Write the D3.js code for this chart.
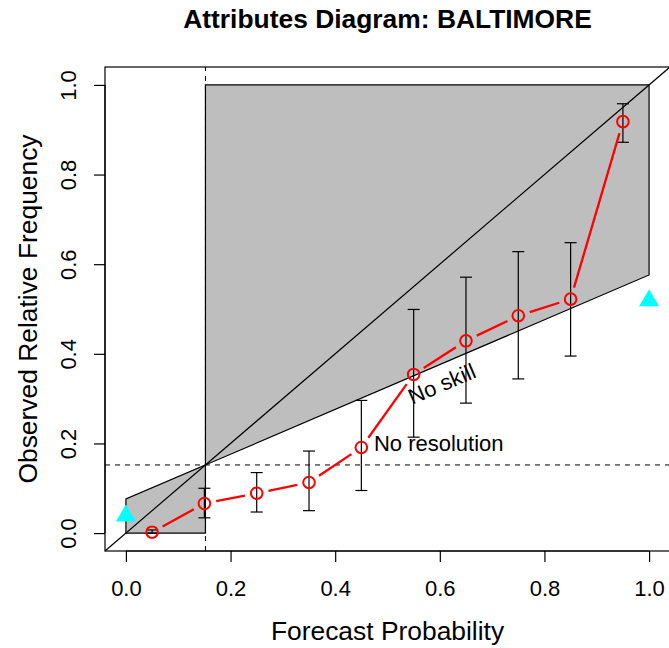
<!DOCTYPE html>
<html>
<head>
<meta charset="utf-8">
<script src="https://cdn.jsdelivr.net/npm/d3@7"></script>
<style>
  body { margin: 0; background: #fff; }
  svg { display: block; font-family: "Liberation Sans", Arial, sans-serif; }
</style>
</head>
<body>
<div id="chart"></div>
<script>
const binMid = [0.05, 0.15, 0.25, 0.35, 0.45, 0.55, 0.65, 0.75, 0.85, 0.95];
const obsFreq = [0.002, 0.066, 0.089, 0.113, 0.191, 0.354, 0.429, 0.485, 0.522, 0.918];
const upperCI = [0.007, 0.100, 0.135, 0.183, 0.296, 0.499, 0.571, 0.628, 0.648, 0.958];
const lowerCI = [0.000, 0.034, 0.047, 0.050, 0.095, 0.214, 0.290, 0.344, 0.395, 0.872];
const climatology = 0.152;
const triX = [0, 1];
const triY = [0.045, 0.525];
const ticks = [0, 0.2, 0.4, 0.6, 0.8, 1.0];

const width = 669, height = 648;
const plot = { left: 105, right: 670, top: 67, bottom: 551 };

const svg = d3.select("#chart")
              .append("svg")
              .attr("width", width)
              .attr("height", height);

const x = d3.scaleLinear().domain([-0.04, 1.04]).range([plot.left, plot.right]);
const y = d3.scaleLinear().domain([-0.04, 1.04]).range([plot.bottom, plot.top]);

const noSkill = p => (p + climatology) / 2;
const line = d3.line().x(d => x(d[0])).y(d => y(d[1]));

// shaded skill areas
const polyLeft = [[0, 0], [0, noSkill(0)], [climatology, climatology], [climatology, 0]];
const polyRight = [[climatology, climatology], [climatology, 1], [1, 1], [1, noSkill(1)]];

[polyLeft, polyRight].forEach(p => {
    svg.append("path")
       .attr("d", line(p) + "Z")
       .attr("fill", "#bebebe")
       .attr("stroke", "#000")
       .attr("stroke-width", 1.2);
});

// perfect reliability diagonal
svg.append("path")
   .attr("d", line([[-0.04, -0.04], [1.04, 1.04]]))
   .attr("stroke", "#000")
   .attr("stroke-width", 1.2);

// climatology lines
svg.append("path")
   .attr("d", line([[-0.04, climatology], [1.04, climatology]]))
   .attr("stroke", "#000")
   .attr("stroke-dasharray", "5,5");

svg.append("path")
   .attr("d", line([[climatology, -0.04], [climatology, 1.04]]))
   .attr("stroke", "#000")
   .attr("stroke-dasharray", "5,5");

// error bars
const bars = svg.append("g")
                .attr("stroke", "#000")
                .attr("stroke-width", 1.2);

binMid.forEach((b, i) => {
    bars.append("line")
        .attr("x1", x(b)).attr("x2", x(b))
        .attr("y1", y(lowerCI[i])).attr("y2", y(upperCI[i]));
    [lowerCI[i], upperCI[i]].forEach(v => {
        bars.append("line")
            .attr("x1", x(b) - 6).attr("x2", x(b) + 6)
            .attr("y1", y(v)).attr("y2", y(v));
    });
});

// reliability curve, type "b" style with gaps at the points
const gap = 12;
for (let i = 0; i < binMid.length - 1; i++) {
    const x0 = x(binMid[i]), y0 = y(obsFreq[i]);
    const x1 = x(binMid[i + 1]), y1 = y(obsFreq[i + 1]);
    const len = Math.hypot(x1 - x0, y1 - y0);
    if (len <= 2 * gap) continue;
    const ux = (x1 - x0) / len, uy = (y1 - y0) / len;
    svg.append("line")
       .attr("x1", x0 + ux * gap).attr("y1", y0 + uy * gap)
       .attr("x2", x1 - ux * gap).attr("y2", y1 - uy * gap)
       .attr("stroke", "red")
       .attr("stroke-width", 2.3);
}

svg.selectAll("circle.pt")
   .data(binMid)
   .join("circle")
   .attr("class", "pt")
   .attr("cx", d => x(d))
   .attr("cy", (d, i) => y(obsFreq[i]))
   .attr("r", 5.8)
   .attr("fill", "none")
   .attr("stroke", "red")
   .attr("stroke-width", 2);

// cyan triangles
svg.selectAll("path.tri")
   .data(triX)
   .join("path")
   .attr("class", "tri")
   .attr("d", (d, i) => {
       const cx = x(d), cy = y(triY[i]);
       return `M${cx},${cy - 8.5}L${cx + 10},${cy + 8.5}L${cx - 10},${cy + 8.5}Z`;
   })
   .attr("fill", "cyan");

// labels inside plot
svg.append("text")
   .attr("x", x(0.474))
   .attr("y", y(0.199))
   .attr("dominant-baseline", "central")
   .style("font-size", "22px")
   .text("No resolution");

const angle = Math.atan2(y(noSkill(0)) - y(noSkill(1)), x(1) - x(0)) * 180 / Math.PI;
svg.append("text")
   .attr("transform", `translate(${x(0.604)}, ${y(0.333)}) rotate(${-angle})`)
   .attr("text-anchor", "middle")
   .attr("dominant-baseline", "central")
   .style("font-size", "22px")
   .text("No skill");

// box and axes
svg.append("rect")
   .attr("x", plot.left).attr("y", plot.top)
   .attr("width", plot.right - plot.left).attr("height", plot.bottom - plot.top)
   .attr("fill", "none")
   .attr("stroke", "#000")
   .attr("stroke-width", 1.2);

const xAxis = svg.append("g")
                 .attr("transform", `translate(0, ${plot.bottom})`)
                 .call(d3.axisBottom(x).tickValues(ticks).tickFormat(d3.format(".1f"))
                         .tickSize(11).tickPadding(18));

const yAxis = svg.append("g")
                 .attr("transform", `translate(${plot.left}, 0)`)
                 .call(d3.axisLeft(y).tickValues(ticks).tickFormat(d3.format(".1f"))
                         .tickSize(11).tickPadding(10));

[xAxis, yAxis].forEach(a => {
    a.select(".domain").remove();
    a.selectAll(".tick line").attr("stroke", "#000").attr("stroke-width", 1.2);
    a.selectAll(".tick text")
     .attr("fill", "#000")
     .style("font-family", "'Liberation Sans', Arial, sans-serif")
     .style("font-size", "22px");
});

// R draws the axis line from first to last tick, on the box
xAxis.append("line").attr("x1", x(0)).attr("x2", x(1)).attr("stroke", "#000").attr("stroke-width", 1.2);
yAxis.append("line").attr("y1", y(0)).attr("y2", y(1)).attr("stroke", "#000").attr("stroke-width", 1.2);

yAxis.selectAll(".tick text")
     .attr("x", 0)
     .attr("dy", null)
     .attr("text-anchor", "middle")
     .attr("dominant-baseline", "central")
     .attr("transform", "translate(-37, 0) rotate(-90)");

svg.append("text")
   .attr("x", (plot.left + plot.right) / 2)
   .attr("y", 28)
   .attr("text-anchor", "middle")
   .style("font-size", "26.4px")
   .style("font-weight", "bold")
   .text("Attributes Diagram: BALTIMORE");

svg.append("text")
   .attr("x", (plot.left + plot.right) / 2)
   .attr("y", 640)
   .attr("text-anchor", "middle")
   .style("font-size", "26.4px")
   .text("Forecast Probability");

svg.append("text")
   .attr("transform", `translate(37, ${(plot.top + plot.bottom) / 2}) rotate(-90)`)
   .attr("text-anchor", "middle")
   .style("font-size", "26.4px")
   .text("Observed Relative Frequency");
</script>
</body>
</html>
